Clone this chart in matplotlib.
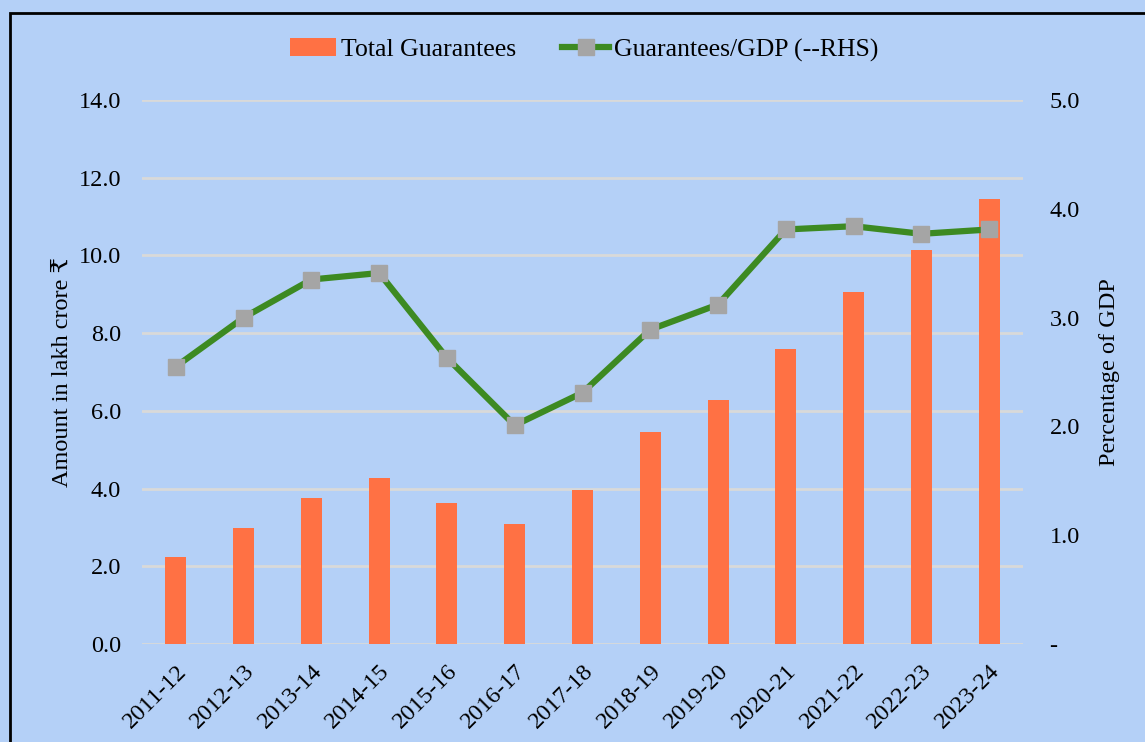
"""Guarantees - bars with ratio line on secondary axis"""

import matplotlib
matplotlib.use("Agg")
import matplotlib.pyplot as plt
from matplotlib.patches import Rectangle

years = ['2011-12', '2012-13', '2013-14', '2014-15', '2015-16', '2016-17', '2017-18',
         '2018-19', '2019-20', '2020-21', '2021-22', '2022-23', '2023-24']
total_guarantees = [2.24, 2.99, 3.76, 4.27, 3.63, 3.09, 3.96, 5.46, 6.28, 7.59, 9.06, 10.14, 11.45]
guarantees_gdp = [2.55, 3.00, 3.35, 3.41, 2.63, 2.01, 2.31, 2.89, 3.12, 3.81, 3.84, 3.77, 3.81]
left_ticks = [0, 2, 4, 6, 8, 10, 12, 14]
right_ticks = [0, 1, 2, 3, 4, 5]

BG = '#b4d0f7'
BAR = '#ff7144'
LINE = '#3d8a22'
MARK = '#a5a5a5'
FS = 17.5

plt.rcParams['font.family'] = ['Liberation Serif', 'DejaVu Serif']

fig = plt.figure(figsize=(11.45, 7.42), dpi=100, facecolor=BG)
ax = fig.add_axes([142 / 1145, 1 - 644 / 742, (1023 - 142) / 1145, (644 - 100) / 742])
ax.set_facecolor(BG)

x = range(len(years))
bars = ax.bar(x, total_guarantees, width=0.31, color=BAR, zorder=2, label='Total Guarantees')
ax.set_xlim(-0.5, len(years) - 0.5)
ax.set_ylim(0, 14)
ax.set_yticks(left_ticks)
ax.set_yticklabels(['{:.1f}'.format(v) for v in left_ticks])
ax.yaxis.grid(True, color='#d9d9d9', lw=2)
ax.set_axisbelow(True)
ax.set_xticks(list(x))
ax.set_xticklabels(years, rotation=45, ha='right', rotation_mode='anchor')
ax.tick_params(length=0, labelsize=FS, pad=15)
ax.tick_params(axis='x', pad=12)
for s in ax.spines.values():
    s.set_visible(False)
ax.set_ylabel('Amount in lakh crore ₹', fontsize=FS, labelpad=4)

ax2 = ax.twinx()
line, = ax2.plot(x, guarantees_gdp, color=LINE, lw=4.5, marker='s', markersize=11,
                 markerfacecolor=MARK, markeredgecolor=MARK, zorder=3,
                 label='Guarantees/GDP (--RHS)')
ax2.set_ylim(0, 5)
ax2.set_yticks(right_ticks)
ax2.set_yticklabels(['-'] + ['{:.1f}'.format(v) for v in right_ticks[1:]])
ax2.tick_params(length=0, labelsize=FS, pad=19)
for s in ax2.spines.values():
    s.set_visible(False)
ax2.set_ylabel('Percentage of GDP', fontsize=FS, labelpad=14)

fig.legend(handles=[bars, line], loc='center', bbox_to_anchor=(0.51, 1 - 50 / 742),
           ncol=2, frameon=False, fontsize=18.5, handlelength=1.8, columnspacing=1.8,
           handletextpad=0.2)

# outer frame (cut off on right and bottom as in the source)
fig.patches.append(Rectangle((10 / 1145, -0.1), 1.2, 1 - 13 / 742 + 0.1,
                             transform=fig.transFigure, fill=False, edgecolor='black', lw=2))

fig.savefig('out.png', dpi=100, facecolor=BG)
